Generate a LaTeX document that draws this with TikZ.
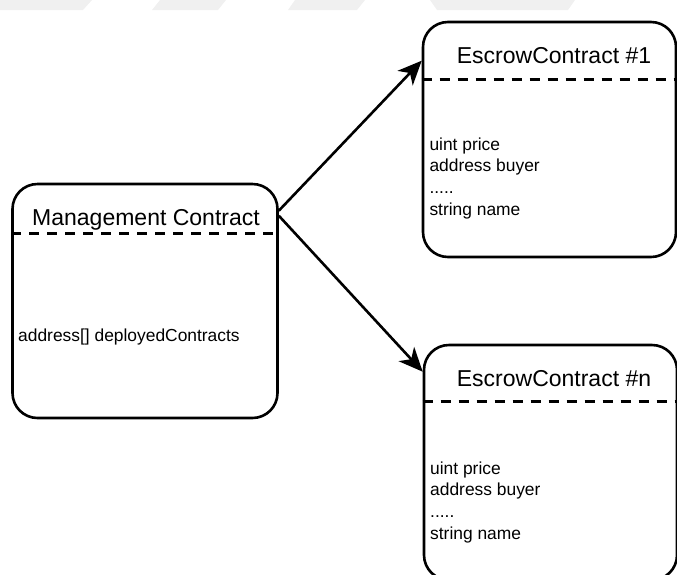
\documentclass[tikz,border=0pt]{standalone}
\usepackage{fontspec}
\setmainfont{Liberation Sans}
\usetikzlibrary{arrows.meta}
\definecolor{markgray}{RGB}{240,240,240}
\tikzset{
  contract/.style={draw, line width=2.6pt, rounded corners=25pt, inner sep=0pt},
  divider/.style={line width=2.5pt, dash pattern=on 10pt off 8pt},
  heading/.style={font=\fontsize{23}{27}\selectfont, inner sep=0pt, anchor=base},
  field/.style={font=\fontsize{17.4}{21.7}\selectfont, inner sep=0pt, anchor=base west},
  link/.style={line width=2.6pt, -{Stealth[length=24pt,width=21pt,inset=7pt]}},
}
\begin{document}
\begin{tikzpicture}[x=1pt,y=-1pt]
\useasboundingbox (0,0) rectangle (677,574);
\clip (0,0) rectangle (677,574);

% faint band along the top edge
\fill[markgray] (0,0) -- (92,0) -- (83,10) -- (0,10) -- cycle;
\fill[markgray] (160,0) -- (226,0) -- (218,10) -- (152,10) -- cycle;
\fill[markgray] (295,0) -- (365,0) -- (357,10) -- (288,10) -- cycle;
\fill[markgray] (430,0) -- (575,0) -- (568,10) -- (437,10) -- cycle;

% contract boxes
\node[contract, minimum width=265pt, minimum height=234pt] (mgmt) at (145,301) {};
\node[contract, minimum width=253pt, minimum height=235pt] (esc1) at (549.5,139.5) {};
\node[contract, minimum width=253pt, minimum height=235pt] (escn) at (550.5,462.5) {};

% header separators
\draw[divider] ([yshift=-51pt]mgmt.north west) -- ([yshift=-51pt]mgmt.north east);
\draw[divider] ([yshift=-59pt]esc1.north west) -- ([yshift=-59pt]esc1.north east);
\draw[divider] ([yshift=-58pt]escn.north west) -- ([yshift=-58pt]escn.north east);

% headings
\node[heading] (mgmtTitle) at (146,225) {Management Contract};
\node[heading] (esc1Title) at (554,63.3) {EscrowContract \#1};
\node[heading] (escnTitle) at (554,386.7) {EscrowContract \#n};

% fields
\node[field] (mgmtF1) at (18,341.7) {address[] deployedContracts};

\node[field] (esc1F1) at (429.3,150) {uint price};
\node[field] (esc1F2) at (429.3,171) {address buyer};
\node[field] (esc1F3) at (429.3,193) {.....};
\node[field] (esc1F4) at (429.3,215) {string name};

\node[field] (escnF1) at (430,474) {uint price};
\node[field] (escnF2) at (430,495) {address buyer};
\node[field] (escnF3) at (430,517) {.....};
\node[field] (escnF4) at (430,539) {string name};

% deployment links
\draw[link] ([yshift=-28pt]mgmt.north east) -- ([yshift=-40pt]esc1.north west);
\draw[link] ([yshift=-33pt]mgmt.north east) -- ([yshift=-28pt]escn.north west);
\end{tikzpicture}
\end{document}
